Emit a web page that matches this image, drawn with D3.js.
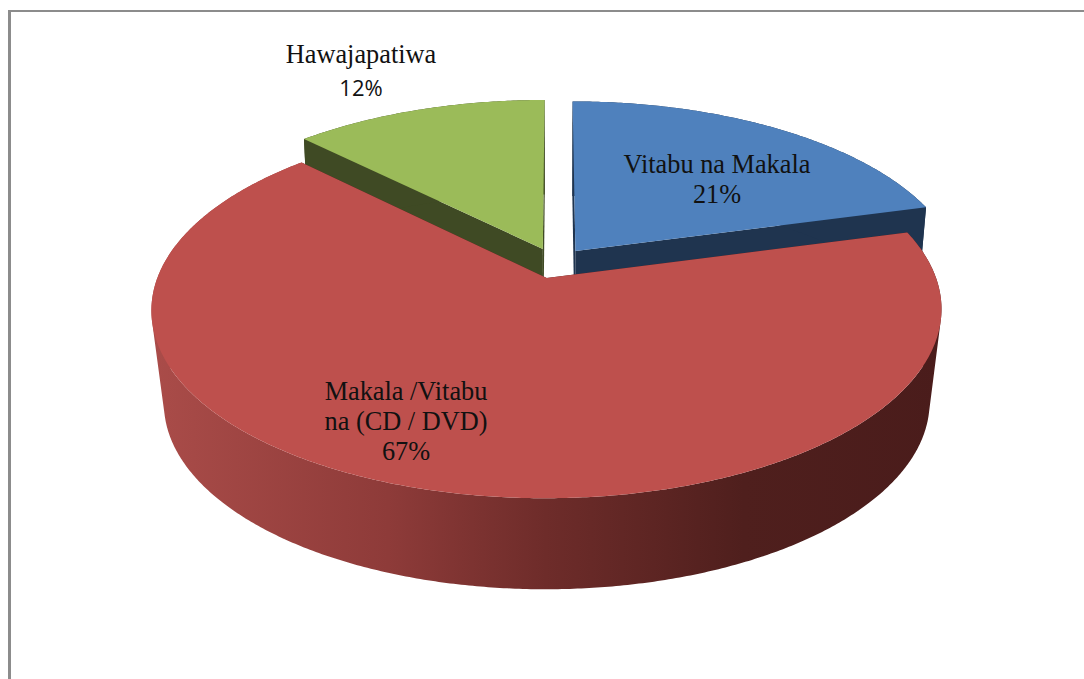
<!DOCTYPE html>
<html lang="sw">
<head>
    <meta charset="UTF-8">
    <title>Pie 3D</title>
    <script src="https://d3js.org/d3.v7.min.js"></script>
    <style>
        html, body { margin: 0; padding: 0; background: #fff; overflow: hidden; }
        text { fill: #111; font-family: "Liberation Serif", serif; font-size: 26.3px; text-anchor: middle; }
        text.sans { font-family: "Open Sans", sans-serif; font-size: 22px; }
    </style>
</head>
<body>
    <svg id="chart" width="1084" height="679"></svg>
    <script>
        // values, slices start at 12 o'clock and go clockwise
        const categories = ["Vitabu na Makala", "Makala /Vitabu na (CD / DVD)", "Hawajapatiwa"];
        const values = [20.8, 66.7, 12.5];
        const percentLabels = ["21%", "67%", "12%"];
        const labelLines = [["Vitabu na Makala"], ["Makala /Vitabu", "na (CD / DVD)"], ["Hawajapatiwa"]];

        const topColors = ["#4f81bd", "#be504d", "#9bbb59"];
        const sideColors = ["#1f344f", "#4a1c1b", "#3f4a24"];

        const width = 1084, height = 679;
        const svg = d3.select("#chart");

        // perspective of the disc: u to the right, v towards the viewer, z downwards
        const cx = 555.4, cy = 263, radiusX = 384, radiusY = 178;
        const tilt = 0.166, explode = 0.0867;
        const depth = 105, depthShrink = 0.093, depthWiden = 0.063;

        function project(u, v, z) {
            const d = 1 - tilt * v + depthShrink * z;
            return [cx + radiusX * (1 + depthWiden * z) * u / d, cy + (radiusY * v + depth * z) / d];
        }

        const slices = d3.pie().sort(null).value(d => d)(values);
        const line = d3.line();

        function arcPoints(s, z) {
            const mid = (s.startAngle + s.endAngle) / 2;
            const ox = explode * Math.sin(mid), oy = -explode * Math.cos(mid);
            const steps = d3.range(s.startAngle, s.endAngle, Math.PI / 360).concat([s.endAngle]);
            return steps.map(a => project(ox + Math.sin(a), oy - Math.cos(a), z));
        }
        function apex(s, z) {
            const mid = (s.startAngle + s.endAngle) / 2;
            return project(explode * Math.sin(mid), -explode * Math.cos(mid), z);
        }

        // the rim as one path of quads all wound the same way, so the fold at the silhouette stays filled
        function rimPath(top, bottom) {
            return d3.range(top.length - 1).map(i => {
                const q = [top[i], top[i + 1], bottom[i + 1], bottom[i]];
                return line(d3.polygonArea(q) < 0 ? q.reverse() : q) + "Z";
            }).join("");
        }

        // dark gradient on the rim of the red slice
        const grad = svg.append("defs").append("linearGradient")
            .attr("id", "rim")
            .attr("gradientUnits", "userSpaceOnUse")
            .attr("x1", 151).attr("x2", 941).attr("y1", 0).attr("y2", 0);
        [[0, "#aa4c49"], [0.3, "#8e3b39"], [0.5, "#6e2c2a"], [0.75, "#4f1f1d"], [1, "#4a1c1b"]].forEach(s => {
            grad.append("stop").attr("offset", s[0]).attr("stop-color", s[1]);
        });

        // frame
        svg.append("rect").attr("x", 8).attr("y", 10).attr("width", width - 8).attr("height", 2).attr("fill", "#8c8c8c");
        svg.append("rect").attr("x", 8).attr("y", 10).attr("width", 3).attr("height", height - 10).attr("fill", "#8c8c8c");

        // painter's order: the back slices first, red last
        [2, 0, 1].forEach(i => {
            const s = slices[i];
            const top = arcPoints(s, 0), bottom = arcPoints(s, 1);
            const g = svg.append("g");
            // radial faces
            [top[0], top[top.length - 1]].forEach((p, j) => {
                const b = j === 0 ? bottom[0] : bottom[bottom.length - 1];
                g.append("path")
                    .attr("d", line([apex(s, 0), p, b, apex(s, 1)]) + "Z")
                    .attr("fill", sideColors[i]);
            });
            // rim
            g.append("path")
                .attr("d", rimPath(top, bottom))
                .attr("fill", i === 1 ? "url(#rim)" : sideColors[i]);
            // top face
            g.append("path")
                .attr("d", line([apex(s, 0)].concat(top)) + "Z")
                .attr("fill", topColors[i]);
        });

        // labels
        const labelPos = [[717, 173], [406, 400], [361, 63]];
        const lineGap = 30;
        categories.forEach((c, i) => {
            const [x, y] = labelPos[i];
            const t = svg.append("g");
            labelLines[i].forEach((l, j) => {
                t.append("text").attr("x", x).attr("y", y + j * lineGap).text(l);
            });
            t.append("text")
                .attr("class", i === 2 ? "sans" : null)
                .attr("x", x)
                .attr("y", y + labelLines[i].length * lineGap + (i === 2 ? 3 : 0))
                .text(percentLabels[i]);
        });
    </script>
</body>
</html>
